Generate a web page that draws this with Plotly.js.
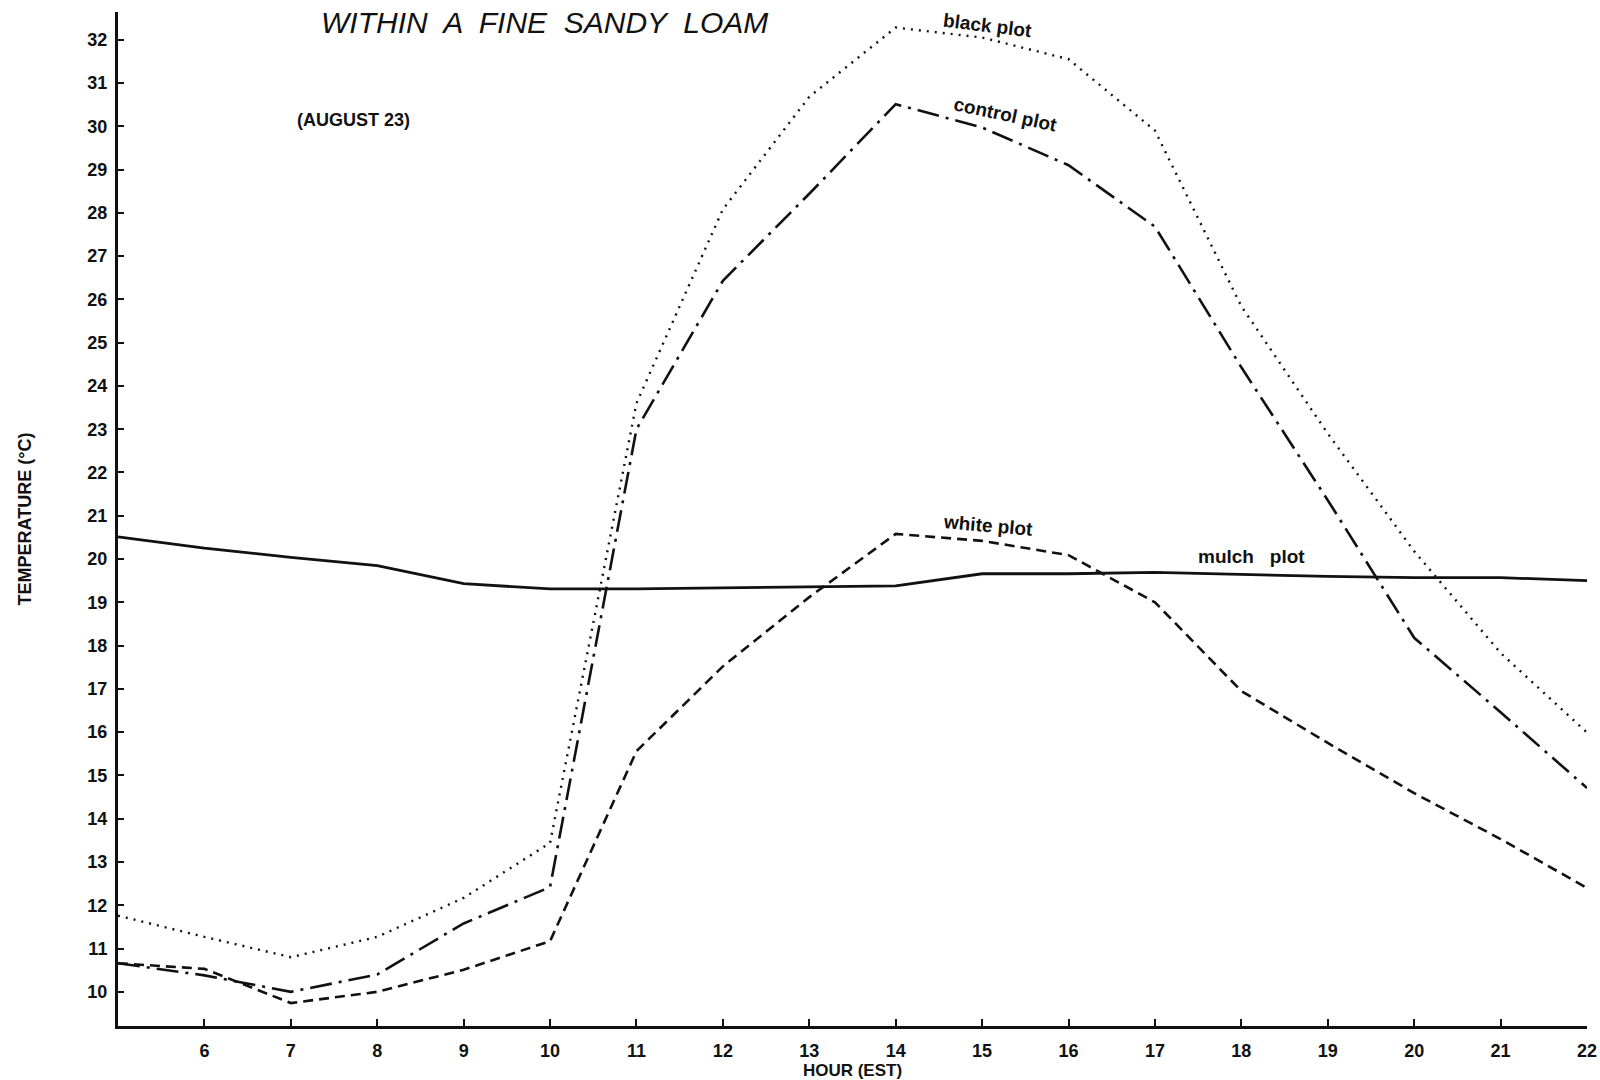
<!DOCTYPE html>
<html>
<head>
<meta charset="utf-8">
<script src="https://cdn.plot.ly/plotly-3.0.1.min.js"></script>
<style>html,body{margin:0;padding:0;background:#fff;}#chart{width:1600px;height:1080px;}</style>
</head>
<body>
<div id="chart"></div>
<script>
const hours = [5,6,7,8,9,10,11,12,13,14,15,16,17,18,19,20,21,22];
const blackPlot   = [11.76,11.27,10.80,11.27,12.17,13.44,23.6,28.08,30.68,32.28,32.05,31.55,29.9,25.84,22.9,20.18,17.83,15.99];
const controlPlot = [10.66,10.38,10.0,10.4,11.58,12.42,23.0,26.43,28.44,30.51,29.97,29.1,27.68,24.43,21.36,18.18,16.46,14.71];
const whitePlot   = [10.66,10.53,9.74,10.0,10.51,11.17,15.56,17.52,19.12,20.58,20.42,20.09,19.0,16.95,15.75,14.59,13.53,12.4];
const mulchPlot   = [20.51,20.25,20.04,19.85,19.43,19.31,19.31,19.33,19.36,19.38,19.66,19.66,19.69,19.64,19.6,19.57,19.57,19.5];
const xTicks = [6,7,8,9,10,11,12,13,14,15,16,17,18,19,20,21,22];
const yTicks = [10,11,12,13,14,15,16,17,18,19,20,21,22,23,24,25,26,27,28,29,30,31,32];

const F = "Liberation Sans Narrow, Liberation Sans, Arial, sans-serif";
const traces = [
  {x: hours, y: blackPlot, mode: 'lines', name: 'black plot', line: {color: '#111', width: 2.4, dash: '2px,6px'}},
  {x: hours, y: controlPlot, mode: 'lines', name: 'control plot', line: {color: '#111', width: 2.6, dash: '22px,7px,3px,7px'}},
  {x: hours, y: whitePlot, mode: 'lines', name: 'white plot', line: {color: '#111', width: 2.6, dash: '10px,6px'}},
  {x: hours, y: mulchPlot, mode: 'lines', name: 'mulch plot', line: {color: '#111', width: 2.8}}
];

const lblFont = {family: F, size: 19, color: '#111', weight: 'bold'};
const layout = {
  width: 1600, height: 1080,
  paper_bgcolor: '#fff', plot_bgcolor: '#fff',
  showlegend: false,
  margin: {l: 118, r: 13, t: 12, b: 54},
  xaxis: {
    range: [5, 22], tickvals: xTicks, ticktext: xTicks.map(String),
    ticks: 'inside', ticklen: 7, tickwidth: 2, tickcolor: '#111',
    showline: true, linecolor: '#111', linewidth: 3, showgrid: false, zeroline: false,
    ticklabelstandoff: 6,
    tickfont: {family: F, size: 18, color: '#111', weight: 'bold'},
    title: {text: 'HOUR (EST)', font: {family: F, size: 17, color: '#111', weight: 'bold'}, standoff: 0}
  },
  yaxis: {
    range: [9.21, 32.64], tickvals: yTicks, ticktext: yTicks.map(String),
    ticks: 'inside', ticklen: 6, tickwidth: 2, tickcolor: '#111',
    showline: true, linecolor: '#111', linewidth: 3, showgrid: false, zeroline: false,
    ticklabelstandoff: 4,
    tickfont: {family: F, size: 18, color: '#111', weight: 'bold'},
    title: {text: 'TEMPERATURE (°C)', font: {family: F, size: 18, color: '#111', weight: 'bold'}, standoff: 52}
  },
  annotations: [
    {x: 9.94, y: 32.4, xref: 'x', yref: 'y', text: 'WITHIN  A  FINE  SANDY  LOAM', showarrow: false,
     font: {family: 'Liberation Sans, Arial, sans-serif', size: 30, color: '#111', style: 'italic'}},
    {x: 7.72, y: 30.14, xref: 'x', yref: 'y', text: '(AUGUST 23)', showarrow: false, font: {family: F, size: 18, color: '#111', weight: 'bold'}},
    {x: 15.06, y: 32.33, xref: 'x', yref: 'y', text: 'black plot', showarrow: false, textangle: 7, font: lblFont},
    {x: 15.27, y: 30.28, xref: 'x', yref: 'y', text: 'control plot', showarrow: false, textangle: 12, font: lblFont},
    {x: 15.07, y: 20.78, xref: 'x', yref: 'y', text: 'white plot', showarrow: false, textangle: 5, font: lblFont},
    {x: 18.12, y: 20.07, xref: 'x', yref: 'y', text: 'mulch&nbsp;&nbsp;&nbsp;plot', showarrow: false, font: lblFont}
  ]
};
Plotly.newPlot('chart', traces, layout, {displayModeBar: false, staticPlot: true});
</script>
</body>
</html>
